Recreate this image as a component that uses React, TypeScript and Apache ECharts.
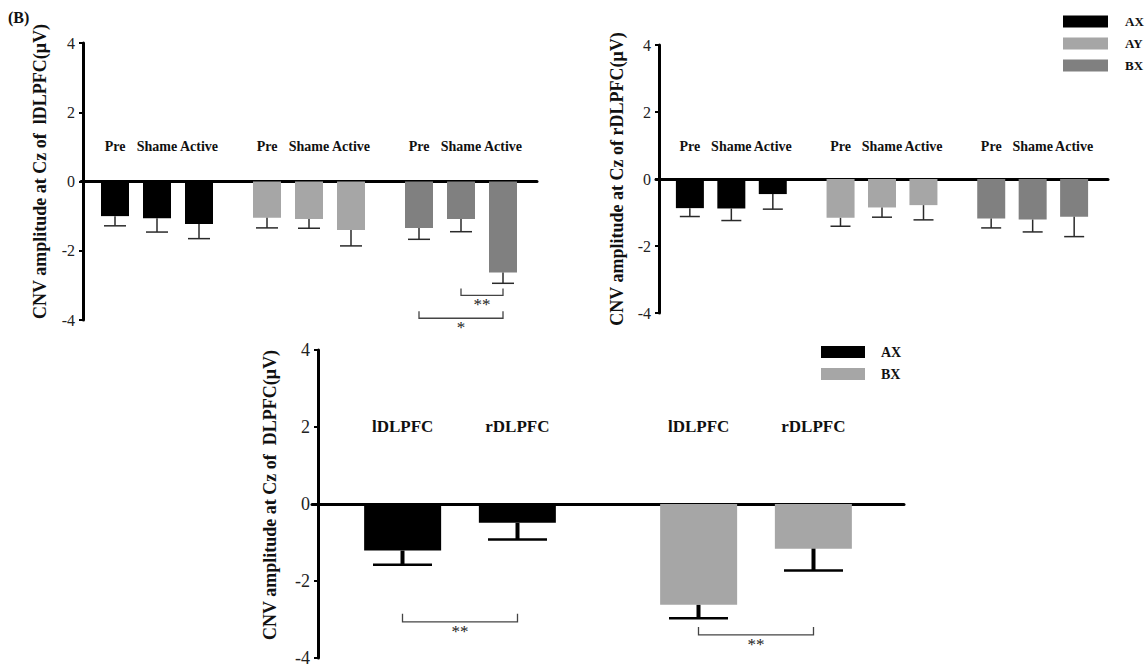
import React, { useEffect, useRef } from "react";
import * as echarts from "echarts";

// ---------- data ----------
const conditions = ["AX", "AY", "BX"];
const phases = ["Pre", "Shame", "Active"];
// CNV amplitude at Cz, lDLPFC stimulation: [condition][phase]
const lMeans = [
  [-1.0, -1.06, -1.23],
  [-1.05, -1.08, -1.4],
  [-1.34, -1.08, -2.63],
];
const lErrs = [
  [0.28, 0.4, 0.42],
  [0.29, 0.27, 0.46],
  [0.33, 0.37, 0.31],
];
// rDLPFC stimulation: [condition][phase]
const rMeans = [
  [-0.87, -0.88, -0.45],
  [-1.16, -0.85, -0.78],
  [-1.18, -1.21, -1.13],
];
const rErrs = [
  [0.25, 0.36, 0.45],
  [0.25, 0.29, 0.44],
  [0.28, 0.37, 0.59],
];
// DLPFC comparison: [condition][site]
const dlConditions = ["AX", "BX"];
const sites = ["lDLPFC", "rDLPFC"];
const dlMeans = [
  [-1.21, -0.49],
  [-2.62, -1.16],
];
const dlErrs = [
  [0.37, 0.43],
  [0.35, 0.57],
];
// significance brackets: [category index, from bar, to bar, y value]
const lSig = [
  [2, 1, 2, -3.29],
  [2, 0, 2, -3.95],
];
const lSigText = ["**", "*"];
const dlSig = [
  [0, 0, 1, -3.06],
  [1, 0, 1, -3.4],
];
const dlSigText = ["**", "**"];

const yMin = -4;
const yMax = 4;
const yStep = 2;

// ---------- styles ----------
const SERIF = "'Liberation Serif', 'Times New Roman', serif";
const condColors: Record<string, string> = { AX: "#000000", AY: "#a6a6a6", BX: "#808080" };
const dlColors = ["#000000", "#a6a6a6"];

function yAxisCfg(gridIndex: number, name: string, nameGap: number, fontSize: number, offset: number, pad: number) {
  return {
    type: "value",
    gridIndex,
    min: yMin,
    max: yMax,
    interval: yStep,
    offset,
    name,
    nameLocation: "middle",
    nameGap,
    nameRotate: 90,
    nameTextStyle: {
      fontFamily: SERIF,
      fontWeight: "bold",
      fontSize: 18,
      color: "#111",
      padding: [0, 0, 0, pad],
    },
    axisLine: { show: true, lineStyle: { color: "#000", width: 3 } },
    axisTick: { show: true, length: 4, lineStyle: { color: "#000", width: 2 } },
    axisLabel: { fontFamily: SERIF, fontSize, color: "#222", margin: 8 },
    splitLine: { show: false },
  };
}

function xAxisCfg(gridIndex: number, data: string[]) {
  return {
    type: "category",
    gridIndex,
    data,
    axisLine: { onZero: true, lineStyle: { color: "#000", width: 3 } },
    axisTick: { show: false },
    axisLabel: { show: false },
  };
}

function barSeries(
  axisIndex: number,
  names: string[],
  cats: string[],
  means: number[][],
  colorOf: (j: number) => string,
  barWidth: number,
  barGap: string,
  labelDistance: number,
  labelSize: number
) {
  return names.map((n, i) => ({
    type: "bar",
    name: n,
    xAxisIndex: axisIndex,
    yAxisIndex: axisIndex,
    barWidth,
    barGap,
    z: 2,
    data: cats.map((_, j) => ({ value: means[j][i], itemStyle: { color: colorOf(j) } })),
    label: {
      show: true,
      position: "top",
      distance: labelDistance,
      formatter: "{a}",
      fontFamily: SERIF,
      fontWeight: "bold",
      fontSize: labelSize,
      color: "#111",
    },
  }));
}

function errSeries(
  axisIndex: number,
  means: number[][],
  errs: number[][],
  spacing: number,
  capW: number,
  stemW: number,
  capLW: number,
  color: string
) {
  const data: number[][] = [];
  means.forEach((row, j) => row.forEach((m, i) => data.push([j, i, m, errs[j][i]])));
  const nBars = means[0].length;
  return {
    type: "custom",
    xAxisIndex: axisIndex,
    yAxisIndex: axisIndex,
    silent: true,
    z: 3,
    itemStyle: { color },
    encode: { x: 0, y: 2 },
    data,
    renderItem: (params: any, api: any) => {
      const cat = api.value(0);
      const bar = api.value(1);
      const mean = api.value(2);
      const err = api.value(3);
      const p0 = api.coord([cat, mean]);
      const p1 = api.coord([cat, mean - err]);
      const x = p0[0] + (bar - (nBars - 1) / 2) * spacing;
      return {
        type: "group",
        children: [
          { type: "line", shape: { x1: x, y1: p0[1], x2: x, y2: p1[1] }, style: { stroke: color, lineWidth: stemW } },
          {
            type: "line",
            shape: { x1: x - capW / 2, y1: p1[1], x2: x + capW / 2, y2: p1[1] },
            style: { stroke: color, lineWidth: capLW },
          },
        ],
      };
    },
  };
}

function sigSeries(axisIndex: number, sig: number[][], texts: string[], nBars: number, spacing: number, tick: number) {
  return {
    type: "custom",
    xAxisIndex: axisIndex,
    yAxisIndex: axisIndex,
    silent: true,
    z: 4,
    itemStyle: { color: "#222" },
    encode: { x: 0, y: 3 },
    data: sig,
    renderItem: (params: any, api: any) => {
      const cat = api.value(0);
      const a = api.value(1);
      const b = api.value(2);
      const yv = api.value(3);
      const c = api.coord([cat, yv]);
      const xa = c[0] + (a - (nBars - 1) / 2) * spacing;
      const xb = c[0] + (b - (nBars - 1) / 2) * spacing;
      const y = c[1];
      return {
        type: "group",
        children: [
          {
            type: "polyline",
            shape: { points: [[xa, y - tick], [xa, y], [xb, y], [xb, y - tick]] },
            style: { stroke: "#444", lineWidth: 1.3, fill: null },
          },
          {
            type: "text",
            style: {
              x: (xa + xb) / 2,
              y: y + 1,
              text: texts[params.dataIndex],
              align: "center",
              verticalAlign: "top",
              fontFamily: SERIF,
              fontSize: 17,
              fill: "#222",
            },
          },
        ],
      };
    },
  };
}

export default function App() {
  const ref = useRef<HTMLDivElement>(null);

  useEffect(() => {
    if (!ref.current) return;
    const chart = echarts.init(ref.current, null, { renderer: "svg" });

    const legendText = (size: number, pad: number) => ({
      fontFamily: SERIF,
      fontWeight: "bold",
      fontSize: size,
      color: "#111",
      padding: [0, 0, 0, pad],
    });

    const option: any = {
      animation: false,
      backgroundColor: "#ffffff",
      title: {
        text: "(B)",
        left: 8,
        top: 9,
        padding: 0,
        textStyle: { fontFamily: SERIF, fontWeight: "bold", fontSize: 16, color: "#111" },
      },
      legend: [
        {
          orient: "vertical",
          left: 1063,
          top: 15,
          itemWidth: 45,
          itemHeight: 12,
          itemGap: 9,
          icon: "rect",
          selectedMode: false,
          padding: 0,
          textStyle: legendText(13, 12),
          data: conditions.map((c) => ({ name: c })),
        },
        {
          orient: "vertical",
          left: 821,
          top: 345,
          itemWidth: 44,
          itemHeight: 12,
          itemGap: 8,
          icon: "rect",
          selectedMode: false,
          padding: 0,
          textStyle: legendText(14, 11),
          data: dlConditions.map((c, j) => ({ name: c, itemStyle: { color: dlColors[j] } })),
        },
      ],
      grid: [
        { left: 81, top: 43, width: 456, height: 277 },
        { left: 656, top: 45, width: 452, height: 268 },
        { left: 312, top: 350, width: 592, height: 308 },
        { left: 0, top: 0, width: 1, height: 1, show: false },
      ],
      xAxis: [
        xAxisCfg(0, conditions),
        xAxisCfg(1, conditions),
        xAxisCfg(2, dlConditions),
        { type: "category", gridIndex: 3, show: false, data: ["x"] },
      ],
      yAxis: [
        yAxisCfg(0, "CNV amplitude at Cz of  lDLPFC(μV)", 34, 16, -2, 20),
        yAxisCfg(1, "CNV amplitude at Cz of rDLPFC(μV)", 33, 16, -3, 0),
        yAxisCfg(2, "CNV amplitude at Cz of  DLPFC(μV)", 39, 18, -6, 18),
        { type: "value", gridIndex: 3, show: false },
      ],
      series: [
        ...barSeries(0, phases, conditions, lMeans, (j) => condColors[conditions[j]], 28, "50%", 28, 14),
        ...barSeries(1, phases, conditions, rMeans, (j) => condColors[conditions[j]], 28, "48%", 26, 14),
        ...barSeries(2, sites, dlConditions, dlMeans, (j) => dlColors[j], 77, "49%", 69, 17),
        errSeries(0, lMeans, lErrs, 42, 22, 1.5, 1.5, "#2a2a2a"),
        errSeries(1, rMeans, rErrs, 41.5, 20, 1.5, 1.5, "#2a2a2a"),
        errSeries(2, dlMeans, dlErrs, 115, 59, 4, 2.5, "#000000"),
        sigSeries(0, lSig, lSigText, 3, 42, 7),
        sigSeries(2, dlSig, dlSigText, 2, 115, 8),
        // legend entries
        ...conditions.map((c) => ({
          type: "bar",
          name: c,
          xAxisIndex: 3,
          yAxisIndex: 3,
          data: [],
          itemStyle: { color: condColors[c] },
        })),
      ],
    };

    chart.setOption(option);
    return () => chart.dispose();
  }, []);

  return (
    <div
      ref={ref}
      style={{ position: "absolute", left: 0, top: 0, width: 1148, height: 668, background: "#fff" }}
    />
  );
}
